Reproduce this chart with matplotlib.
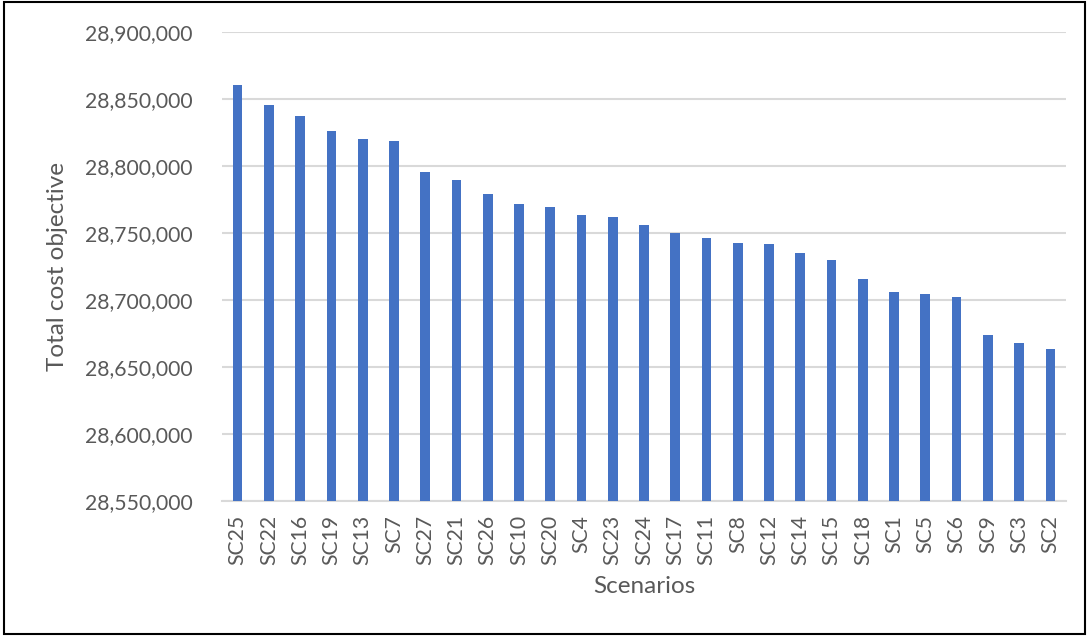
import matplotlib.pyplot as plt
from matplotlib.patches import Rectangle
from matplotlib.ticker import FuncFormatter

scenarios = ["SC25", "SC22", "SC16", "SC19", "SC13", "SC7", "SC27", "SC21", "SC26",
             "SC10", "SC20", "SC4", "SC23", "SC24", "SC17", "SC11", "SC8", "SC12",
             "SC14", "SC15", "SC18", "SC1", "SC5", "SC6", "SC9", "SC3", "SC2"]
total_cost = [28860400, 28845500, 28837500, 28825900, 28820200, 28818900, 28795300,
              28789300, 28779300, 28771400, 28769400, 28763200, 28762300, 28755800,
              28749800, 28746100, 28742600, 28741600, 28735400, 28729600, 28715400,
              28705700, 28704500, 28702500, 28673700, 28667700, 28663700]
y_ticks = [28550000, 28600000, 28650000, 28700000, 28750000, 28800000, 28850000, 28900000]

plt.rcParams['font.family'] = ['Lato', 'DejaVu Sans']
text_color = '#595959'
grid_color = '#d9d9d9'

fig = plt.figure(figsize=(10.89, 6.36), dpi=100)
ax = fig.add_axes([222 / 1089, 1 - 501 / 636, (1066 - 222) / 1089, (501 - 32) / 636])

x = range(len(scenarios))
ax.bar(x, [v - y_ticks[0] for v in total_cost], bottom=y_ticks[0], width=0.31,
       color='#4472C4', zorder=3)

ax.set_xlim(-0.5, len(scenarios) - 0.5)
ax.set_ylim(y_ticks[0], y_ticks[-1])
ax.set_yticks(y_ticks)
ax.yaxis.set_major_formatter(FuncFormatter(lambda v, p: f'{v:,.0f}'))
ax.set_xticks(list(x))
ax.set_xticklabels(scenarios, rotation=90)

ax.grid(axis='y', color=grid_color, linewidth=1.5, zorder=0)
for s in ['top', 'right', 'left']:
    ax.spines[s].set_visible(False)
ax.spines['bottom'].set_color(grid_color)
ax.spines['bottom'].set_linewidth(1.5)
ax.tick_params(axis='both', length=0, labelsize=15.2, colors=text_color)
ax.tick_params(axis='y', pad=21)
ax.tick_params(axis='x', pad=10)

ax.set_ylabel('Total cost objective', fontsize=17.5, color=text_color, labelpad=12)
ax.set_xlabel('Scenarios', fontsize=17.5, color=text_color, labelpad=8)

# thin frame around the whole figure
fig.patches.append(Rectangle((4 / 1089, 2 / 636), 1081 / 1089, 632 / 636,
                             transform=fig.transFigure, fill=False,
                             edgecolor='black', linewidth=1.5))

fig.savefig('out.png', dpi=100)
